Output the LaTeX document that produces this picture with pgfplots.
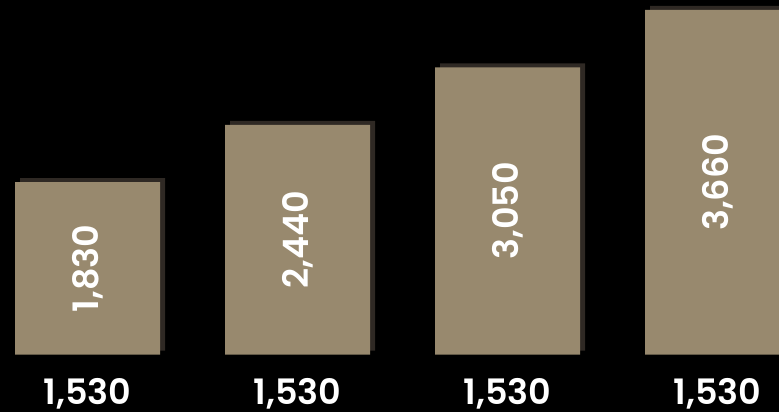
\documentclass[border=0pt]{standalone}
\usepackage{pgfplots}
\pgfplotsset{compat=1.18}
\usepackage{fontspec}
\setmainfont{Poppins}[BoldFont={Poppins SemiBold}]
\definecolor{barc}{HTML}{98896E}
\definecolor{shadowc}{HTML}{2F2924}
\begin{document}
\begin{tikzpicture}
\fill[black] (0,0) rectangle (779pt,-412pt);
\begin{axis}[
  at={(0,0)}, anchor=north west,
  scale only axis, width=779pt, height=354.5pt,
  xmin=-0.41667, xmax=3.29286, ymin=0, ymax=3766,
  axis line style={draw=none},
  ytick=\empty,
  ybar, bar width=145pt,
  xtick=data, xticklabels={1{,}530,1{,}530,1{,}530,1{,}530},
  major tick length=0pt,
  xticklabel style={anchor=base, yshift=-50pt, inner sep=0pt, text depth=0pt, text=white, font=\fontsize{35}{40}\selectfont\bfseries},
  /pgf/number format/.cd, 1000 sep={,}, assume math mode=true, /pgfplots/.cd,
]
\addplot[fill=barc, draw=none,
  preaction={fill=shadowc, transform canvas={xshift=5pt, yshift=4pt}},
  visualization depends on={rawy \as \rawy},
  nodes near coords,
  nodes near coords style={shift={(axis direction cs:0,-\rawy/2)}, rotate=90, anchor=center, text=white, font=\fontsize{35}{40}\selectfont\bfseries},
] coordinates {(0,1830) (1,2440) (2,3050) (3,3660)};
\end{axis}
\pgfresetboundingbox
\path[use as bounding box] (0,0) rectangle (779pt,-412pt);
\end{tikzpicture}
\end{document}
